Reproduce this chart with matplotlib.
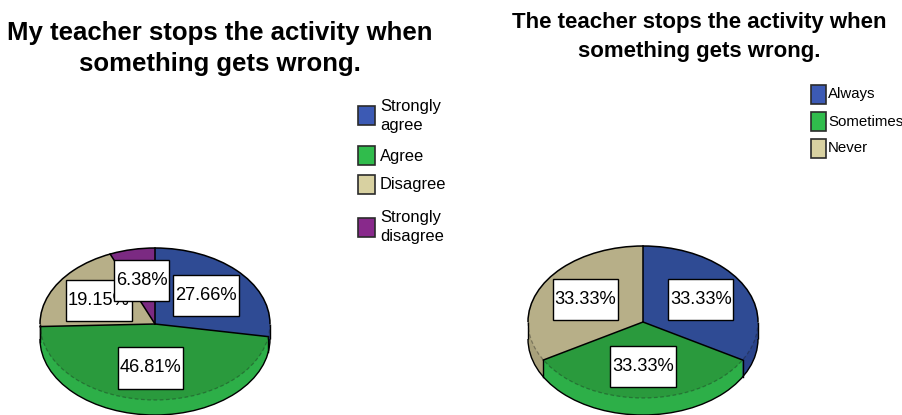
import matplotlib
matplotlib.use("Agg")
import matplotlib.pyplot as plt
from matplotlib import font_manager
from matplotlib.patches import Arc, Rectangle
from matplotlib.path import Path
import numpy as np

# ---- data -------------------------------------------------------------
left_title = "My teacher stops the activity when\nsomething gets wrong."
left_labels = ["Strongly\nagree", "Agree", "Disagree", "Strongly\ndisagree"]
left_values = [27.66, 46.81, 19.15, 6.38]

right_title = "The teacher stops the activity when\nsomething gets wrong."
right_labels = ["Always", "Sometimes", "Never"]
right_values = [33.33, 33.33, 33.33]

# ---- styling ----------------------------------------------------------
TOP = ["#2F4B94", "#2A9A3D", "#B7AF88", "#7B2A82"]
SIDE = ["#2A438A", "#2DAF48", "#A9A17B", "#6E2575"]
KEY = ["#3C5AB4", "#30BC4C", "#D8D1A1", "#88298B"]

W, H = 902, 415
installed = {f.name for f in font_manager.fontManager.ttflist}
if "Liberation Sans Narrow" in installed:
    NARROW, NSCALE = "Liberation Sans Narrow", 1.0
else:
    NARROW, NSCALE = "Liberation Sans", 0.82
BOLD = "Liberation Sans"

fig = plt.figure(figsize=(W / 100, H / 100), dpi=100)
fig.patch.set_facecolor("white")


def label_box(x0, y0, width, height, mutation_size):
    px, py = 0.10 * mutation_size, 0.66 * mutation_size
    x0, y0 = x0 - px, y0 - py
    x1, y1 = x0 + width + 2 * px, y0 + height + 2 * py
    return Path([(x0, y0), (x1, y0), (x1, y1), (x0, y1), (x0, y0)], closed=True)


def pie3d(values, cx, cy, a, b, depth):
    """Tilted pie: top face centred at pixel (cx, cy), semi-axes a, b."""
    rect = [(cx - a) / W, (H - (cy + b + depth)) / H, 2 * a / W, (2 * b + depth) / H]
    ax = fig.add_axes(rect)
    n = len(values)
    dd = depth / b
    steps = int(depth * 2)
    # side band: stacked copies of the pie, from the bottom up
    for k in range(steps, 0, -1):
        ax.pie(values, colors=SIDE[:n], startangle=90, counterclock=False,
               center=(0, -k * dd / steps), wedgeprops=dict(linewidth=0))
    ax.add_patch(Arc((0, -dd), 2, 2, theta1=180, theta2=360, color="black", lw=1))
    for sx in (-1, 1):
        ax.plot([sx, sx], [0, -dd], color="black", lw=1, solid_capstyle="butt")
    cum = np.cumsum([0] + list(values)) / sum(values) * 2 * np.pi
    # vertical seams where wedge boundaries meet the front rim
    for t in cum[:-1]:
        x, y = np.sin(t), np.cos(t)
        if y < -0.02:
            ax.plot([x, x], [y, y - dd], color="black", lw=1)
    # top face with percentage labels
    _, _, pct = ax.pie(values, colors=TOP[:n], startangle=90, counterclock=False,
                       autopct="%.2f%%", pctdistance=0.58,
                       wedgeprops=dict(linewidth=0),
                       textprops=dict(fontfamily=NARROW, fontsize=16 * NSCALE,
                                      color="black", zorder=5))
    # wedge boundaries, back rim solid, front rim faint
    for t in cum[:-1]:
        ax.plot([0, np.sin(t)], [0, np.cos(t)], color="black", lw=1.1, zorder=3)
    ax.add_patch(Arc((0, 0), 2, 2, theta1=0, theta2=180, color="black", lw=1.1,
                     zorder=3))
    ax.add_patch(Arc((0, 0), 2, 2, theta1=180, theta2=360, color="#1a1a1a",
                     alpha=0.35, lw=0.9, linestyle=(0, (3, 2)), zorder=3))
    for t in pct:
        t.set_bbox(dict(boxstyle=label_box, facecolor="white",
                        edgecolor="black", linewidth=1))
    for p in ax.patches:
        p.set_clip_on(False)
    for ln in ax.lines:
        ln.set_clip_on(False)
    ax.set_aspect("auto")
    ax.set_xlim(-1, 1)
    ax.set_ylim(-1 - dd, 1)
    ax.axis("off")
    return ax


def key(labels, x, ys, bw, bh, gap, fs, ls):
    for lab, y, c in zip(labels, ys, KEY):
        fig.patches.append(Rectangle((x / W, 1 - (y + bh / 2) / H), bw / W, bh / H,
                                     transform=fig.transFigure, facecolor=c,
                                     edgecolor="#2b2b2b", linewidth=1.2))
        fig.text((x + bw + gap) / W, 1 - y / H, lab, fontfamily=NARROW,
                 fontsize=fs * NSCALE, ha="left", va="center", linespacing=ls)


# titles
fig.text(220 / W, 1 - 21 / H, left_title, fontfamily=BOLD, fontweight="bold",
         fontsize=18.5, ha="center", va="top", linespacing=1.37)
fig.text(699 / W, 1 - 12 / H, right_title, fontfamily=BOLD, fontweight="bold",
         fontsize=16, ha="center", va="top", linespacing=1.48)

pie3d(left_values, 155, 324, 115, 76, 15)
pie3d(right_values, 643, 322, 115, 76, 17)

key(left_labels, 358, [116, 156, 184, 227], 17, 19, 5, 14.5, 1.4)
key(right_labels, 811, [94, 122, 148], 15, 19, 2, 13.2, 1.0)

fig.savefig("out.png", dpi=100, facecolor="white")
